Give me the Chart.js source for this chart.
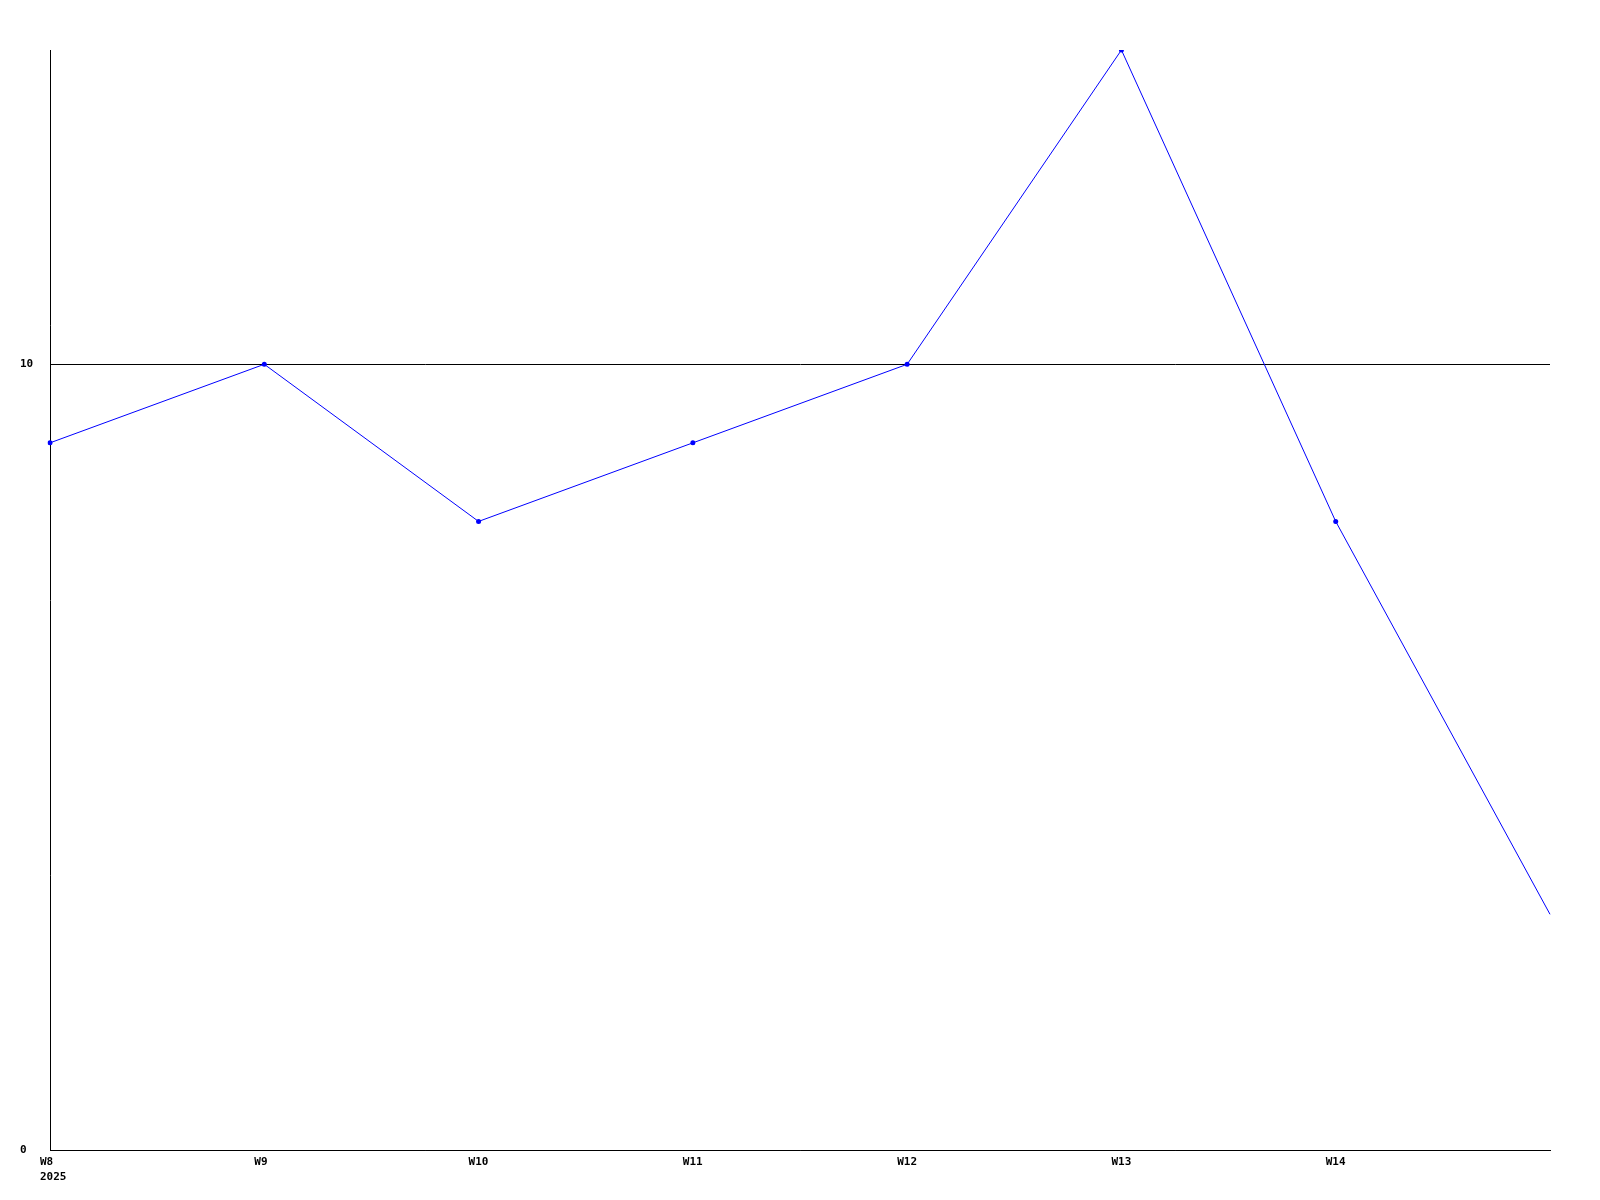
<!DOCTYPE html>
<html>
<head>
<meta charset="utf-8">
<script src="https://cdn.jsdelivr.net/npm/chart.js@4/dist/chart.umd.min.js"></script>
<style>
  body { margin: 0; background: #fff; }
  canvas { display: block; }
</style>
</head>
<body>
<canvas id="myChart" width="1600" height="1200"></canvas>
<script>
const weeks = ['W8', 'W9', 'W10', 'W11', 'W12', 'W13', 'W14', ''];
const startYear = '2025';
const values = [9, 10, 8, 9, 10, 14, 8, 3];
const yTicks = [0, 10];
const yMax = 14;

const labels = weeks.map((w, i) => (i === 0 ? [w, startYear] : w));
const radii = values.map((v, i) => (i === values.length - 1 ? 0 : 2.5));

const tickFont = { family: 'DejaVu Sans Mono', size: 11, weight: 'bold', lineHeight: 1.35 };

const ctx = document.getElementById('myChart').getContext('2d');
const myChart = new Chart(ctx, {
  type: 'line',
  data: {
    labels: labels,
    datasets: [
      {
        data: values,
        borderColor: '#0000ff',
        backgroundColor: '#0000ff',
        borderWidth: 1,
        pointRadius: radii,
        pointHoverRadius: radii,
        pointBorderWidth: 0,
        tension: 0,
        fill: false,
      },
    ],
  },
  options: {
    responsive: false,
    animation: false,
    layout: {
      padding: { left: 20, top: 50, right: 50, bottom: 0 },
    },
    plugins: {
      legend: { display: false },
      tooltip: { enabled: false },
    },
    scales: {
      x: {
        grid: { display: false, drawTicks: false },
        border: { display: true, color: '#000', width: 1 },
        ticks: {
          color: '#000',
          font: tickFont,
          padding: 5,
          maxRotation: 0,
          autoSkip: false,
          align: 'start',
          labelOffset: -10,
        },
        afterFit: (scale) => {
          scale.height = 50;
        },
      },
      y: {
        min: 0,
        max: yMax,
        grid: { color: '#000', lineWidth: 1, drawTicks: false },
        border: { display: true, color: '#000', width: 1 },
        afterBuildTicks: (scale) => {
          scale.ticks = yTicks.map((v) => ({ value: v }));
        },
        ticks: {
          color: '#000',
          font: tickFont,
          crossAlign: 'far',
        },
        afterFit: (scale) => {
          scale.width = 30;
        },
      },
    },
  },
});
</script>
</body>
</html>
